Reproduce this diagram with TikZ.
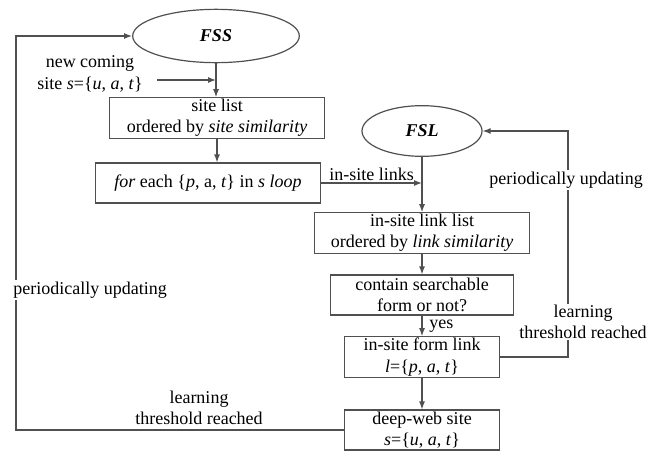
\documentclass[tikz,border=0pt]{standalone}
\usepackage{fontspec}
\setmainfont{Liberation Serif}
\usetikzlibrary{arrows.meta,shapes.geometric}
\definecolor{ink}{HTML}{505050}

\begin{document}
\begin{tikzpicture}[
  x=.75pt, y=-.75pt,
  font=\fontsize{13.5}{16}\selectfont,
  stage/.style={draw=ink, line width=.9pt, align=center, inner sep=1pt,
    minimum height=30pt},
  pool/.style={ellipse, draw=ink, line width=.9pt, inner sep=0pt,
    font=\fontsize{13.5}{16}\selectfont\bfseries\itshape},
  flow/.style={draw=ink, line width=.9pt, -{Latex[length=6pt,width=4.5pt]}},
  note/.style={align=center, inner sep=1pt},
  cut/.style={note, fill=white}
]
\useasboundingbox (0,0) rectangle (652,450);

\node[pool, minimum width=125pt, minimum height=40pt] (fss) at (216,36) {FSS};
\node[pool, minimum width=90pt, minimum height=38pt] (fsl) at (422,131) {FSL};

\node[stage, minimum width=161pt] (sitelist) at (217,118)
  {site list\\ordered by \textit{site similarity}};
\node[stage, minimum width=169pt] (foreach) at (208,183)
  {\textit{for} each \{\textit{p}, a, \textit{t}\} in \textit{s loop}};
\node[stage, minimum width=161pt] (linklist) at (422,233)
  {in-site link list\\ordered by \textit{link similarity}};
\node[stage, minimum width=137pt] (contain) at (422,295)
  {contain searchable\\form or not?};
\node[stage, minimum width=116pt] (formlink) at (422,357)
  {in-site form link\\\textit{l}=\{\textit{p}, \textit{a}, \textit{t}\}};
\node[stage, minimum width=116pt] (deepweb) at (422,430)
  {deep-web site\\\textit{s}=\{\textit{u}, \textit{a}, \textit{t}\}};

\node[note] (newsite) at (90,74)
  {new coming\\site \textit{s}=\{\textit{u}, \textit{a}, \textit{t}\}};
\coordinate (newin) at (157,80);

% main chain
\draw[flow] (fss.south) -- (sitelist.north -| fss.south);
\draw[flow] (newin) -- (fss.south |- newin);
\draw[flow] (sitelist.south) -- (sitelist.south |- foreach.north);
\draw[flow] (foreach.east) -- node[note, above] {in-site links}
  (fsl.south |- foreach.east);
\draw[flow] (fsl.south) -- (linklist.north);
\draw[flow] (linklist.south) -- (contain.north);
\draw[flow] (contain.south) -- node[note, right, xshift=4pt] {yes} (formlink.north);
\draw[flow] (formlink.south) -- (deepweb.north);

% feedback loops
\coordinate (rloop) at (568,0);
\coordinate (lloop) at (16,0);
\draw[flow] (formlink.east) -- (rloop |- formlink.east) -- (rloop |- fsl.east)
  -- (fsl.east);
\draw[flow] (deepweb.west) -- (lloop |- deepweb.west) -- (lloop |- fss.west)
  -- (fss.west);

\node[cut] (rperiod) at (566,180) {periodically updating};
\node[cut] (rlearn) at (583,322) {learning\\threshold reached};
\node[cut] (lperiod) at (90,290) {periodically updating};
\node[note] (llearn) at (199,408) {learning\\threshold reached};
\end{tikzpicture}
\end{document}
